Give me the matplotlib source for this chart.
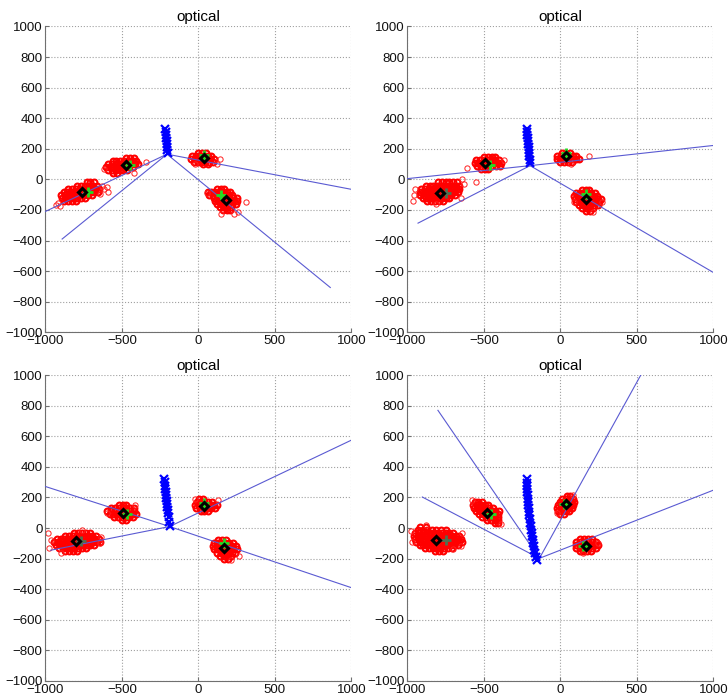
import matplotlib.pyplot as plt

# ── DATA ──────────────────────────────────────────────────────────────────────
# red samples per cluster, written as (y, [x ...]) rows plus loose outliers (x, y)

# panel 1 (top left)
A1 = [(-20, [-730, -705, -680]),
      (-40, [-790, -765, -740, -715, -690, -665]),
      (-60, [-850, -825, -800, -775, -750, -725, -700, -675, -650]),
      (-80, [-880, -855, -830, -805, -780, -755, -730, -705, -680, -655]),
      (-100, [-895, -870, -845, -820, -795, -770, -745, -720, -695]),
      (-120, [-890, -865, -840, -815, -790, -765, -740]),
      (-140, [-875, -850, -825, -800])]
A1_out = [(-915, -155), (-930, -170), (-905, -175), (-630, -40), (-615, -65),
          (-600, -50), (-590, -80), (-640, -95)]
B1 = [(140, [-470, -445, -420]),
      (120, [-560, -535, -510, -485, -460, -435, -410]),
      (100, [-590, -565, -540, -515, -490, -465, -440, -415, -395]),
      (80, [-605, -580, -555, -530, -505, -480, -455, -430]),
      (60, [-590, -565, -540, -515, -490, -465]),
      (40, [-555, -530])]
B1_out = [(-345, 115), (-420, 45), (-615, 65)]
C1 = [(175, [0, 25, 50]),
      (155, [-40, -15, 10, 35, 60, 85]),
      (135, [-50, -25, 0, 25, 50, 75, 100]),
      (115, [-30, -5, 20, 45, 70, 95]),
      (100, [30, 60])]
C1_out = [(140, 135), (120, 100), (-20, 100)]
D1 = [(-60, [120, 145, 170]),
      (-80, [60, 85, 110, 135, 160, 185, 210]),
      (-100, [70, 95, 120, 145, 170, 195, 220]),
      (-120, [100, 125, 150, 175, 200, 225, 250]),
      (-140, [110, 135, 160, 185, 210, 235, 255]),
      (-160, [120, 145, 170, 195, 220, 245]),
      (-180, [140, 165, 190, 215]),
      (-200, [160, 185, 210])]
D1_out = [(310, -145), (230, -225), (260, -215), (55, -90), (150, -225)]

diam1 = [(-758, -82), (-475, 95), (35, 142), (178, -136)]
plus1 = [(-720, -82), (-445, 95), (35, 162), (150, -103)]
dark1 = []
cross1_x = [-215, -213, -212, -210, -208, -206, -205, -203, -201]
cross1_y = [330, 310, 290, 270, 250, 230, 210, 190, 170]
apex1 = (-205, 165)
ends1 = [(-1000, -210), (-890, -390), (1000, -65), (862, -707)]

# panel 2 (top right)
A2 = [(-20, [-800, -775, -750, -725, -700, -675]),
      (-40, [-880, -855, -830, -805, -780, -755, -730, -705, -680, -660]),
      (-60, [-910, -885, -860, -835, -810, -785, -760, -735, -710, -685, -660]),
      (-80, [-920, -895, -870, -845, -820, -795, -770, -745, -720, -695, -670]),
      (-100, [-915, -890, -865, -840, -815, -790, -765, -740, -715, -690]),
      (-120, [-900, -875, -850, -825, -800, -775, -750, -725]),
      (-140, [-870, -845, -820, -795, -770])]
A2_out = [(-965, -140), (-955, -100), (-640, 0), (-630, -30), (-650, -120),
          (-950, -60), (-810, -160)]
B2 = [(145, [-500, -475, -450, -425]),
      (125, [-550, -525, -500, -475, -450, -425, -400]),
      (105, [-560, -535, -510, -485, -460, -435, -410, -385]),
      (85, [-545, -520, -495, -470, -445, -420, -395]),
      (65, [-520, -495, -470])]
B2_out = [(-610, 75), (-550, -15), (-370, 130)]
C2 = [(175, [10, 35, 60]),
      (155, [-20, 5, 30, 55, 80, 105]),
      (135, [-25, 0, 25, 50, 75, 100, 120]),
      (115, [0, 25, 50, 75])]
C2_out = [(190, 155), (70, 100)]
D2 = [(-70, [140, 165, 190]),
      (-90, [100, 125, 150, 175, 200, 225]),
      (-110, [90, 115, 140, 165, 190, 215, 240]),
      (-130, [95, 120, 145, 170, 195, 220, 245, 265]),
      (-150, [105, 130, 155, 180, 205, 230, 255]),
      (-170, [120, 145, 170, 195, 220, 245]),
      (-190, [140, 165, 190, 215]),
      (-205, [170, 195])]
D2_out = [(275, -150), (90, -150), (210, -215)]

diam2 = [(-786, -86), (-493, 106), (34, 150), (165, -130)]
plus2 = [(-460, 95), (34, 172), (165, -97)]
dark2 = [(-749, -86)]
cross2_x = [-220, -218, -216, -214, -212, -210, -208, -206, -204, -202, -200, -198]
cross2_y = [330, 310, 290, 270, 250, 230, 210, 190, 170, 150, 125, 105]
apex2 = (-198, 90)
ends2 = [(-1000, 5), (-930, -286), (1000, 222), (1000, -609)]

# panel 3 (bottom left)
A3 = [(-30, [-810, -785, -760, -735, -710]),
      (-50, [-870, -845, -820, -795, -770, -745, -720, -695, -670]),
      (-70, [-925, -900, -875, -850, -825, -800, -775, -750, -725, -700, -675, -650]),
      (-90, [-940, -915, -890, -865, -840, -815, -790, -765, -740, -715, -690, -665, -645]),
      (-110, [-930, -905, -880, -855, -830, -805, -780, -755, -730, -705, -680]),
      (-130, [-910, -885, -860, -835, -810, -785, -760, -735]),
      (-150, [-870, -845, -820, -795])]
A3_out = [(-985, -30), (-965, -80), (-975, -130), (-635, -60), (-640, -100),
          (-760, -15), (-900, -160)]
B3 = [(150, [-520, -495, -470]),
      (130, [-570, -545, -520, -495, -470, -445, -420]),
      (110, [-595, -570, -545, -520, -495, -470, -445, -420]),
      (90, [-580, -555, -530, -505, -480, -455, -430, -410]),
      (70, [-550, -525, -500, -475, -450, -425]),
      (50, [-500, -475])]
B3_out = [(-415, 150), (-600, 100)]
C3 = [(190, [5, 30]),
      (170, [-10, 15, 40, 65, 90]),
      (150, [-20, 5, 30, 55, 80, 105, 125]),
      (130, [-15, 10, 35, 60, 85, 110]),
      (110, [15, 40, 65])]
C3_out = [(130, 185), (-20, 190)]
D3 = [(-80, [130, 155, 180]),
      (-100, [100, 125, 150, 175, 200, 225]),
      (-120, [95, 120, 145, 170, 195, 220, 245]),
      (-140, [100, 125, 150, 175, 200, 225, 250]),
      (-160, [120, 145, 170, 195, 220, 240]),
      (-180, [140, 165, 190, 215]),
      (-200, [170, 195])]
D3_out = [(265, -185), (215, -210)]

diam3 = [(-800, -85), (-491, 100), (38, 144), (166, -129)]
plus3 = [(-463, 89), (38, 166), (166, -100)]
dark3 = [(-767, -85)]
cross3_x = [-223, -221, -219, -217, -214, -212, -210, -207, -205, -202, -199, -196, -193, -189, -186]
cross3_y = [318, 298, 278, 258, 238, 218, 198, 178, 158, 138, 118, 98, 72, 42, 15]
apex3 = (-188, 10)
ends3 = [(-1000, 272), (-965, -145), (1000, 575), (1000, -390)]

# panel 4 (bottom right)
A4 = [(10, [-920, -880]),
      (-10, [-930, -900, -870, -840, -810, -780, -750]),
      (-30, [-950, -925, -900, -875, -850, -825, -800, -775, -750, -725, -700]),
      (-50, [-955, -930, -905, -880, -855, -830, -805, -780, -755, -730, -705, -680, -660]),
      (-70, [-950, -925, -900, -875, -850, -825, -800, -775, -750, -725, -700, -675, -650]),
      (-90, [-940, -915, -890, -865, -840, -815, -790, -765, -740, -715, -690, -665, -645]),
      (-110, [-920, -895, -870, -845, -820, -795, -770, -745, -720, -695, -670]),
      (-130, [-885, -860, -835, -810, -785, -760, -735, -710]),
      (-150, [-820, -795, -770])]
A4_out = [(-975, -20), (-970, -90), (-640, -30), (-650, -120), (-880, 20), (-700, -140)]
B4 = [(170, [-560, -535, -510]),
      (150, [-570, -545, -520, -495, -470]),
      (130, [-565, -540, -515, -490, -465, -440]),
      (110, [-550, -525, -500, -475, -450, -425, -400]),
      (90, [-530, -505, -480, -455, -430, -405]),
      (70, [-510, -485, -460, -435, -410]),
      (50, [-480, -455, -430, -405]),
      (30, [-430, -405])]
B4_out = [(-390, 25), (-580, 185)]
C4 = [(210, [40, 65]),
      (190, [10, 35, 60, 80]),
      (170, [-5, 20, 45, 70, 90]),
      (150, [-15, 10, 35, 60, 85]),
      (130, [-20, 5, 30, 55, 75]),
      (110, [-15, 10, 35, 55]),
      (90, [0, 25])]
C4_out = [(-25, 100), (85, 215)]
D4 = [(-70, [130, 155, 180, 205]),
      (-90, [105, 130, 155, 180, 205, 230]),
      (-110, [100, 125, 150, 175, 200, 225, 245]),
      (-130, [105, 130, 155, 180, 205, 230]),
      (-150, [125, 150, 175, 200])]
D4_out = [(150, -165), (245, -100)]

diam4 = [(-814, -78), (-482, 100), (38, 155), (165, -118)]
plus4 = [(-455, 92), (25, 158), (148, -118)]
dark4 = [(-749, -78)]
cross4_x = [-220, -219, -218, -217, -216, -214, -213, -211, -209, -207, -205, -203, -200,
            -197, -194, -191, -188, -185, -182, -178, -174, -170, -166, -161, -156]
cross4_y = [318, 297, 276, 255, 234, 213, 192, 171, 150, 129, 108, 87, 60,
            35, 12, -10, -32, -54, -76, -98, -120, -142, -164, -186, -208]
apex4 = (-137, -198)
ends4 = [(-800, 770), (-902, 203), (525, 1000), (1000, 248)]

TITLE = 'optical'
TICKS = [-1000, -500, 0, 500, 1000]
YTICKS = list(range(-1000, 1001, 200))

panels = [
    dict(red=[(A1, A1_out), (B1, B1_out), (C1, C1_out), (D1, D1_out)],
         diam=diam1, plus=plus1, dark=dark1, cx=cross1_x, cy=cross1_y,
         apex=apex1, ends=ends1),
    dict(red=[(A2, A2_out), (B2, B2_out), (C2, C2_out), (D2, D2_out)],
         diam=diam2, plus=plus2, dark=dark2, cx=cross2_x, cy=cross2_y,
         apex=apex2, ends=ends2),
    dict(red=[(A3, A3_out), (B3, B3_out), (C3, C3_out), (D3, D3_out)],
         diam=diam3, plus=plus3, dark=dark3, cx=cross3_x, cy=cross3_y,
         apex=apex3, ends=ends3),
    dict(red=[(A4, A4_out), (B4, B4_out), (C4, C4_out), (D4, D4_out)],
         diam=diam4, plus=plus4, dark=dark4, cx=cross4_x, cy=cross4_y,
         apex=apex4, ends=ends4),
]

# ── PLOT ──────────────────────────────────────────────────────────────────────
plt.rcParams['font.family'] = ['Liberation Sans', 'DejaVu Sans']

fig = plt.figure(figsize=(7.28, 6.99), dpi=100)
boxes = [(0.0622, 0.5246), (0.5595, 0.5246), (0.0622, 0.0258), (0.5595, 0.0258)]
W, H = 0.4205, 0.4375

for (l, b), p in zip(boxes, panels):
    ax = fig.add_axes([l, b, W, H])

    # red samples: dense core, then thin loose ones
    for rows, outl in p['red']:
        xs = [x for y, row in rows for x in row]
        ys = [y for y, row in rows for x in row]
        ax.plot(xs, ys, 'o', ms=4.2, mfc='none', mec='#ff0000', mew=1.5, zorder=2)
        ax.plot([o[0] for o in outl], [o[1] for o in outl], 'o', ms=3.8,
                mfc='none', mec='#ff2020', mew=0.7, zorder=2)

    # lines from the apex
    ax0, ay0 = p['apex']
    for ex, ey in p['ends']:
        ax.plot([ax0, ex], [ay0, ey], '-', color='#5a5ad2', lw=0.8, zorder=3)

    # blue crosses
    ax.plot(p['cx'], p['cy'], 'x', color='#0000ff', ms=6, mew=1.6, zorder=4)

    # green / dark plus markers
    if p['plus']:
        ax.plot([q[0] for q in p['plus']], [q[1] for q in p['plus']], '+',
                color='#22dd22', ms=7, mew=2, zorder=5)
    if p['dark']:
        ax.plot([q[0] for q in p['dark']], [q[1] for q in p['dark']], '+',
                color='#507050', ms=7, mew=2, zorder=5)

    # black diamonds
    ax.plot([q[0] for q in p['diam']], [q[1] for q in p['diam']], 'D',
            ms=3.6, mfc='none', mec='black', mew=2.2, zorder=6)

    ax.set_xlim(-1000, 1000)
    ax.set_ylim(-1000, 1000)
    ax.set_xticks(TICKS)
    ax.set_yticks(YTICKS)
    ax.grid(True, linestyle=':', color='#a0a0a0', linewidth=0.8)
    ax.set_axisbelow(True)
    for s in ['top', 'right']:
        ax.spines[s].set_visible(False)
    for s in ['left', 'bottom']:
        ax.spines[s].set_color('#707070')
        ax.spines[s].set_linewidth(0.8)
    ax.tick_params(direction='in', length=3, color='#707070', labelsize=9.5,
                   pad=2, labelcolor='#111111')
    ax.set_title(TITLE, fontsize=11, pad=4)

plt.savefig('out.png', dpi=100)
